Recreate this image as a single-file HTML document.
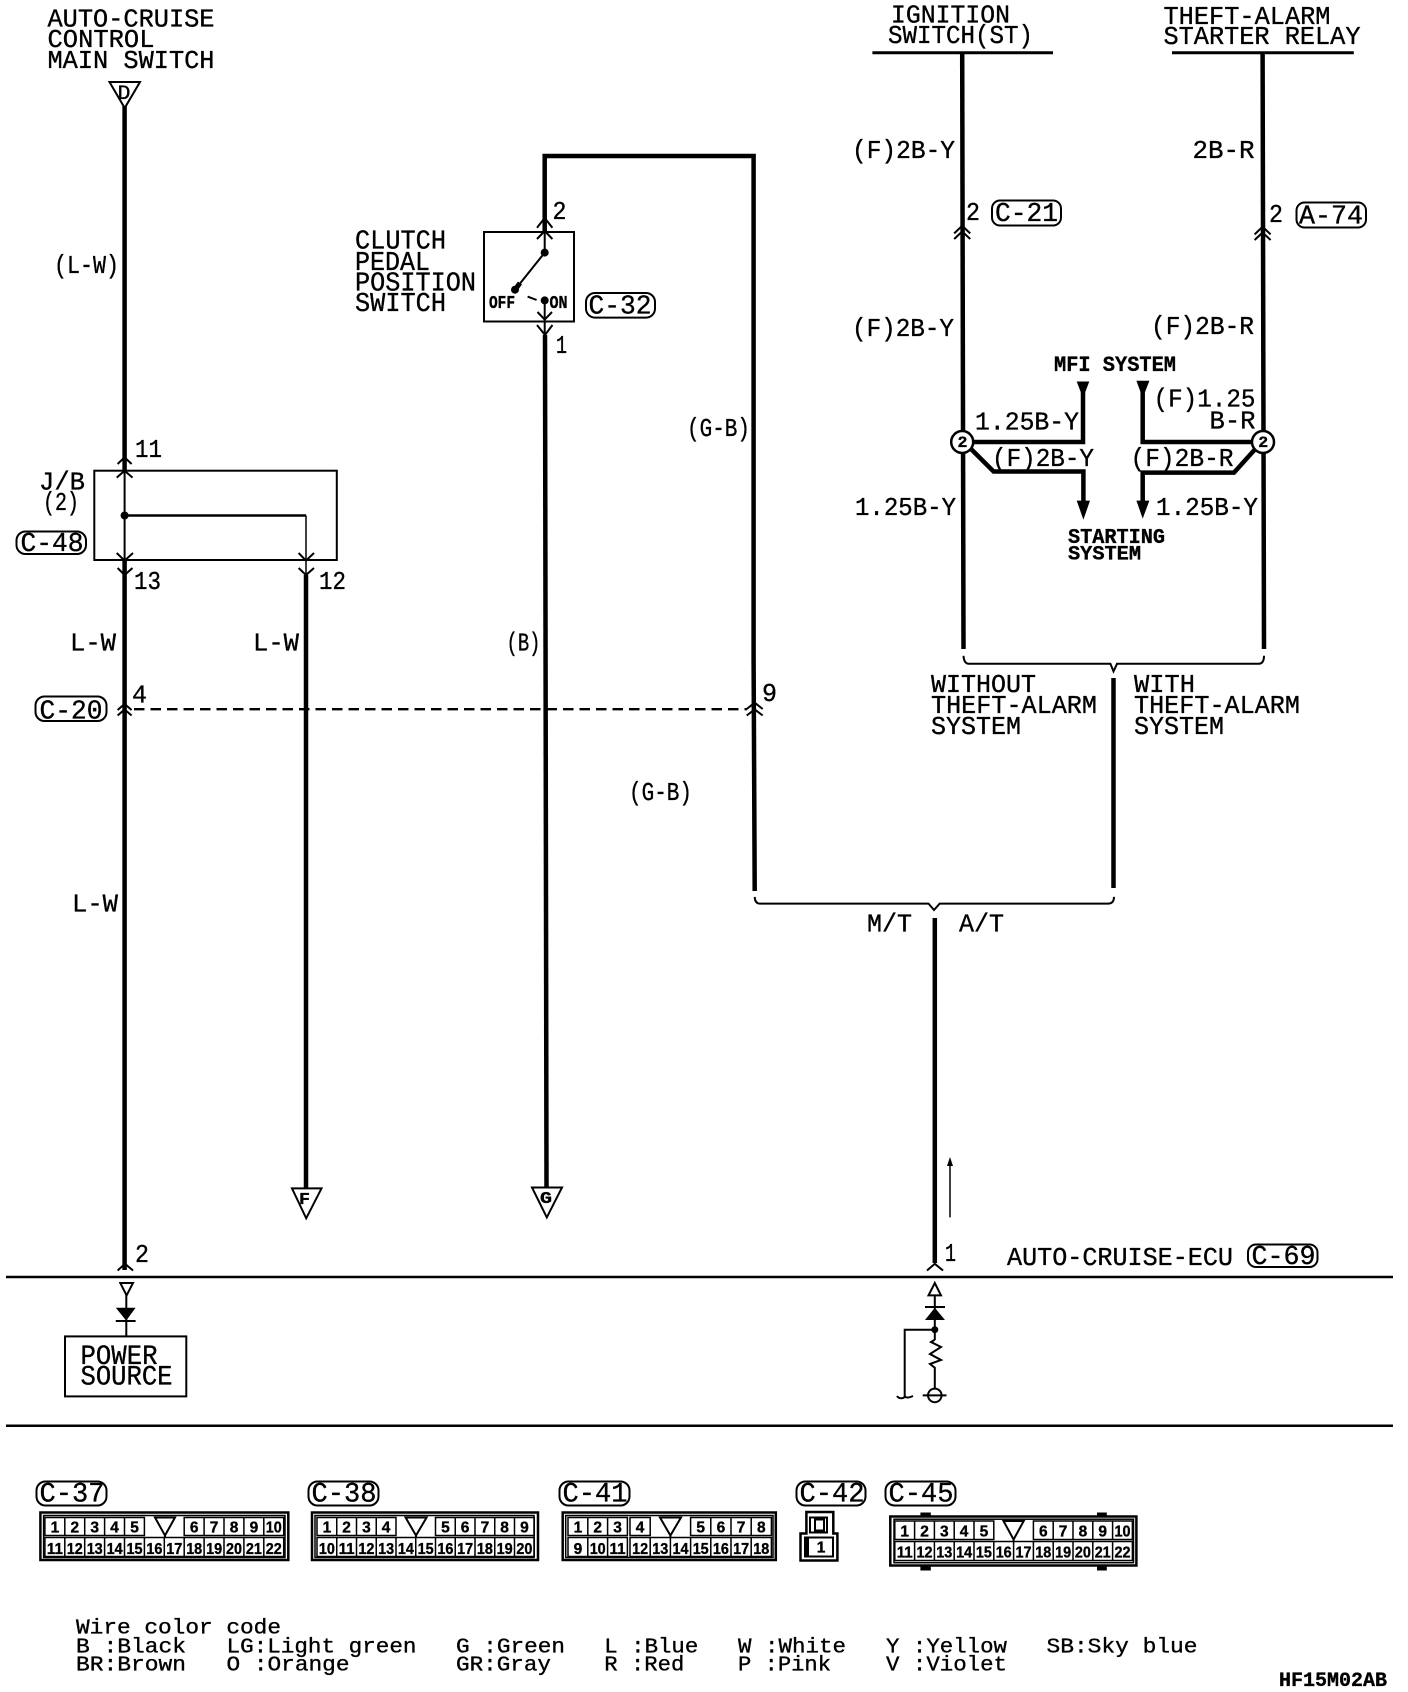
<!DOCTYPE html>
<html><head><meta charset="utf-8"><title>Auto-cruise wiring diagram</title>
<style>
html,body{margin:0;padding:0;background:#fff}
svg{display:block}
text{font-family:"Liberation Mono",monospace;fill:#000;stroke:#000;stroke-width:.35;transform:translateY(-1px)}
.c17{font-size:26px}.c18{font-size:27px}.c14{font-size:21px}
.b{font-weight:bold}
.n text{font-family:"Liberation Sans",sans-serif;font-weight:bold;font-size:15.5px;text-anchor:middle;stroke-width:.35}
.w{fill:none;stroke:#000;stroke-width:4.5}
.t{fill:none;stroke:#000;stroke-width:2}
.l{fill:none;stroke:#000;stroke-width:1.5}
.f{fill:#000;stroke:none}
.p{fill:#fff;stroke:#000;stroke-width:2}
</style></head><body>
<svg width="1408" height="1692" viewBox="0 0 1408 1692" xmlns="http://www.w3.org/2000/svg">
<rect width="1408" height="1692" fill="#fff"/>

<!-- dividers -->
<path class="t" style="stroke-width:2.5" d="M6 1277H1393M6 1425.7H1393"/>

<!-- wires -->
<path class="w" d="M124.6 106V1270"/>
<path class="w" d="M306 575V1188"/>
<path class="w" d="M544.7 232V156H753.6V660L754.7 891"/>
<path class="w" d="M545 335L546.5 1188"/>
<path class="w" d="M962.2 53L963.5 649"/>
<path class="w" d="M1262.6 53L1264 649"/>
<path class="w" d="M1113.5 678V888"/>
<path class="w" d="M934.8 918V1263"/>
<path class="t" style="stroke-width:3" d="M872.4 52.8H1053M1172 52.8H1353.8"/>

<!-- dashed -->
<path d="M134 709.2H747" stroke="#000" stroke-width="2.4" stroke-dasharray="10.5 6" fill="none"/>

<!-- braces -->
<path class="t" d="M963.5 655.8Q964 663.8 969 663.8H1110.4L1113.5 671.4L1117 663.8H1258.6Q1264 663.8 1264 655.8"/>
<path class="t" d="M754.7 896.9Q755 903.6 760 903.6H928.5L934 910L939.7 903.6H1108Q1114 903.6 1114 896.9"/>

<!-- top-left triangle -->
<path class="p" d="M109.5 82H140L124.7 108Z"/>
<text x="117.5" y="100" font-size="20" textLength="13" lengthAdjust="spacingAndGlyphs">D</text>
<text class="c17" x="47.5" y="27.5" textLength="167" lengthAdjust="spacingAndGlyphs">AUTO-CRUISE</text>
<text class="c17" x="47.5" y="47.8" textLength="107" lengthAdjust="spacingAndGlyphs">CONTROL</text>
<text class="c17" x="47.5" y="69" textLength="167" lengthAdjust="spacingAndGlyphs">MAIN SWITCH</text>
<text class="c17" x="54" y="274" textLength="65" lengthAdjust="spacingAndGlyphs">(L-W)</text>

<!-- clutch switch -->
<text class="c18" x="355" y="249.5" textLength="91" lengthAdjust="spacingAndGlyphs">CLUTCH</text>
<text class="c18" x="355" y="271" textLength="75" lengthAdjust="spacingAndGlyphs">PEDAL</text>
<text class="c18" x="355" y="291.6" textLength="121" lengthAdjust="spacingAndGlyphs">POSITION</text>
<text class="c18" x="355" y="312" textLength="91" lengthAdjust="spacingAndGlyphs">SWITCH</text>
<rect x="484" y="232" width="90" height="89.5" fill="#fff" stroke="#000" stroke-width="2"/>
<path class="t" d="M544.7 218V252.6"/>
<path class="t" d="M537 227.7L544.7 218L552.4 227.7M537 239L544.7 231L552.4 239"/>
<circle class="f" cx="544.7" cy="252.6" r="4"/>
<path class="t" d="M544.7 252.6L515 289.7"/>
<path d="M520 283L515 289.7" stroke="#000" stroke-width="5"/>
<circle class="f" cx="515" cy="289.7" r="4"/>
<path class="t" d="M527.6 296.6L536.6 300"/>
<circle class="f" cx="544.7" cy="300.4" r="4"/>
<path class="t" d="M544.7 300.4V335"/>
<path class="t" d="M537.5 312L544.7 319.6L552 312M537 325L545 335L552.5 325"/>
<text class="b" x="489" y="309" font-size="18" textLength="26" lengthAdjust="spacingAndGlyphs">OFF</text>
<text class="b" x="549.5" y="309" font-size="18" textLength="18" lengthAdjust="spacingAndGlyphs">ON</text>
<rect class="p" x="586" y="293" width="69" height="24.6" rx="9"/>
<text class="c18" x="588.5" y="314.6" textLength="63" lengthAdjust="spacingAndGlyphs">C-32</text>
<text class="c17" x="552.5" y="220" textLength="14" lengthAdjust="spacingAndGlyphs">2</text>
<text class="c17" x="556" y="354" textLength="11" lengthAdjust="spacingAndGlyphs">1</text>
<text class="c17" x="687" y="437" textLength="63" lengthAdjust="spacingAndGlyphs">(G-B)</text>

<!-- J/B -->
<rect x="94.3" y="470.7" width="242.5" height="89.3" fill="#fff" stroke="#000" stroke-width="2"/>
<path class="t" d="M124.6 457V575"/>
<path class="t" style="stroke-width:2.5" d="M124.6 515.5H306"/>
<path class="l" d="M306 515.5V575"/>
<circle class="f" cx="124.6" cy="515.5" r="4"/>
<path class="t" d="M117.6 464L124.6 457.3L131.6 464M116.7 477.6L124.6 470.7L132.5 477.6"/>
<path class="t" d="M116.7 553L124.6 560.6L133 553M117.6 568L124.6 575L132.5 568"/>
<path class="t" d="M298.6 553L306 560.6L314 553M298.6 568L306 575L314 568"/>
<text class="c17" x="135" y="458" textLength="27" lengthAdjust="spacingAndGlyphs">11</text>
<text class="c17" x="39" y="490.6" textLength="46" lengthAdjust="spacingAndGlyphs">J/B</text>
<text class="c17" x="43" y="511" textLength="36" lengthAdjust="spacingAndGlyphs">(2)</text>
<rect class="p" x="16.5" y="531.5" width="69.5" height="22.5" rx="9"/>
<text class="c18" x="20.5" y="552" textLength="63" lengthAdjust="spacingAndGlyphs">C-48</text>
<text class="c17" x="134" y="590" textLength="27" lengthAdjust="spacingAndGlyphs">13</text>
<text class="c17" x="319" y="590" textLength="27" lengthAdjust="spacingAndGlyphs">12</text>

<!-- mid labels -->
<text class="c17" x="70" y="651.3" textLength="46" lengthAdjust="spacingAndGlyphs">L-W</text>
<text class="c17" x="253" y="651.3" textLength="46" lengthAdjust="spacingAndGlyphs">L-W</text>
<text class="c17" x="506.5" y="651.3" textLength="34" lengthAdjust="spacingAndGlyphs">(B)</text>
<rect class="p" x="35.5" y="696.5" width="71" height="24.5" rx="9"/>
<text class="c18" x="39.5" y="719.5" textLength="63" lengthAdjust="spacingAndGlyphs">C-20</text>
<text class="c17" x="132" y="703.6" textLength="15" lengthAdjust="spacingAndGlyphs">4</text>
<path class="t" d="M117.6 710L124.6 704L131.6 710M117.6 715.5L124.6 709.5L131.6 715.5"/>
<text class="c17" x="629" y="801" textLength="63" lengthAdjust="spacingAndGlyphs">(G-B)</text>
<text class="c17" x="72" y="912.5" textLength="46" lengthAdjust="spacingAndGlyphs">L-W</text>
<path class="t" d="M746.7 709L754.7 702.7L762.7 709M746.7 715.5L754.7 709.4L762.7 715.5"/>
<text class="c17" x="762" y="701.8" textLength="15" lengthAdjust="spacingAndGlyphs">9</text>

<!-- F G triangles -->
<path class="p" d="M292 1188.4H321.5L306.2 1218.3Z"/>
<text class="b" x="299" y="1205" font-size="17" textLength="11" lengthAdjust="spacingAndGlyphs">F</text>
<path class="p" d="M532 1187.5H562L546.8 1217.4Z"/>
<text class="b" x="540" y="1204" font-size="17" textLength="12" lengthAdjust="spacingAndGlyphs">G</text>

<text class="c17" x="135" y="1263" textLength="14" lengthAdjust="spacingAndGlyphs">2</text>
<path class="t" d="M117.6 1270.5L125 1263.8L133 1270.5"/>

<!-- Power source -->
<path class="p" d="M120.3 1283H133L126.6 1295.4Z"/>
<path class="t" d="M126.3 1295V1336.4"/>
<path class="f" d="M115.8 1307.8H135.6L126.2 1320.6Z"/>
<path class="t" d="M115.8 1321H135.6"/>
<rect x="65" y="1336.4" width="121.3" height="60" fill="#fff" stroke="#000" stroke-width="2"/>
<text font-size="28" x="80.5" y="1365" textLength="77" lengthAdjust="spacingAndGlyphs">POWER</text>
<text font-size="28" x="80.5" y="1385.3" textLength="92" lengthAdjust="spacingAndGlyphs">SOURCE</text>

<!-- Ignition column -->
<text class="c17" x="891" y="23.7" textLength="119" lengthAdjust="spacingAndGlyphs">IGNITION</text>
<text class="c17" x="888" y="44" textLength="145" lengthAdjust="spacingAndGlyphs">SWITCH(ST)</text>
<text class="c17" x="1163.5" y="25" textLength="167" lengthAdjust="spacingAndGlyphs">THEFT-ALARM</text>
<text class="c17" x="1163.5" y="45" textLength="197" lengthAdjust="spacingAndGlyphs">STARTER RELAY</text>
<text class="c17" x="852" y="158.8" textLength="103" lengthAdjust="spacingAndGlyphs">(F)2B-Y</text>
<text class="c17" x="1192.5" y="158.8" textLength="62" lengthAdjust="spacingAndGlyphs">2B-R</text>
<text class="c17" x="966" y="221" textLength="14" lengthAdjust="spacingAndGlyphs">2</text>
<rect class="p" x="992" y="200.5" width="69" height="25" rx="8"/>
<text class="c18" x="995" y="222" textLength="63" lengthAdjust="spacingAndGlyphs">C-21</text>
<path class="t" d="M954.2 233.4L962.2 225.8L970.2 233.4M954.2 239L962.2 231.5L970.2 239"/>
<text class="c17" x="1269" y="223" textLength="14" lengthAdjust="spacingAndGlyphs">2</text>
<rect class="p" x="1296.5" y="202.5" width="69.5" height="25" rx="8"/>
<text class="c18" x="1299" y="224.5" textLength="64" lengthAdjust="spacingAndGlyphs">A-74</text>
<path class="t" d="M1254.6 234.4L1262.6 226.8L1270.6 234.4M1254.6 240L1262.6 232.5L1270.6 240"/>
<text class="c17" x="852" y="336.8" textLength="102" lengthAdjust="spacingAndGlyphs">(F)2B-Y</text>
<text class="c17" x="1151" y="334.9" textLength="103" lengthAdjust="spacingAndGlyphs">(F)2B-R</text>
<text class="b" x="1054" y="372" font-size="22" textLength="122" lengthAdjust="spacingAndGlyphs">MFI SYSTEM</text>
<text class="c17" x="1153.5" y="407.6" textLength="102" lengthAdjust="spacingAndGlyphs">(F)1.25</text>
<text class="c17" x="1209.5" y="429.4" textLength="46" lengthAdjust="spacingAndGlyphs">B-R</text>
<text class="c17" x="975" y="430.5" textLength="104" lengthAdjust="spacingAndGlyphs">1.25B-Y</text>
<text class="c17" x="992" y="466.9" textLength="102" lengthAdjust="spacingAndGlyphs">(F)2B-Y</text>
<text class="c17" x="1130.5" y="466.9" textLength="103" lengthAdjust="spacingAndGlyphs">(F)2B-R</text>
<text class="c17" x="855" y="515.9" textLength="101" lengthAdjust="spacingAndGlyphs">1.25B-Y</text>
<text class="c17" x="1156" y="515.9" textLength="102" lengthAdjust="spacingAndGlyphs">1.25B-Y</text>
<text class="b" x="1068" y="544" font-size="21" textLength="97" lengthAdjust="spacingAndGlyphs">STARTING</text>
<text class="b" x="1068" y="560.6" font-size="20" textLength="73" lengthAdjust="spacingAndGlyphs">SYSTEM</text>

<path class="w" d="M962 442H1083V385"/>
<path class="w" d="M1263 442H1142.7V385"/>
<path class="w" d="M968 446L993.6 471.5H1083.4V503"/>
<path class="w" d="M1258 446L1234 472.6H1142.7V503"/>
<path class="f" d="M1076.7 381.5H1089.3L1083 398Z"/>
<path class="f" d="M1136.4 380.8H1149.4L1142.7 398Z"/>
<path class="f" d="M1076.7 500.6H1090L1083.4 519.7Z"/>
<path class="f" d="M1136.4 500.6H1149.4L1142.7 518.6Z"/>
<circle cx="962.2" cy="442" r="11" fill="#fff" stroke="#000" stroke-width="2.5"/>
<circle cx="1263" cy="442" r="11" fill="#fff" stroke="#000" stroke-width="2.5"/>
<text class="b" x="957.5" y="448" font-size="16" textLength="10" lengthAdjust="spacingAndGlyphs">2</text>
<text class="b" x="1258.3" y="448" font-size="16" textLength="10" lengthAdjust="spacingAndGlyphs">2</text>

<!-- without/with -->
<text font-size="26" x="931" y="692.9" textLength="105" lengthAdjust="spacingAndGlyphs">WITHOUT</text>
<text font-size="26" x="931" y="713.8" textLength="166" lengthAdjust="spacingAndGlyphs">THEFT-ALARM</text>
<text font-size="26" x="931" y="734.8" textLength="90" lengthAdjust="spacingAndGlyphs">SYSTEM</text>
<text font-size="26" x="1134" y="692.9" textLength="61" lengthAdjust="spacingAndGlyphs">WITH</text>
<text font-size="26" x="1134" y="713.8" textLength="166" lengthAdjust="spacingAndGlyphs">THEFT-ALARM</text>
<text font-size="26" x="1134" y="734.8" textLength="90" lengthAdjust="spacingAndGlyphs">SYSTEM</text>
<text class="c17" x="867" y="932.6" textLength="45" lengthAdjust="spacingAndGlyphs">M/T</text>
<text class="c17" x="959" y="932.6" textLength="45" lengthAdjust="spacingAndGlyphs">A/T</text>

<!-- small arrow -->
<path class="l" d="M950 1217.4V1162"/>
<path class="f" d="M950 1157L953 1166H947Z"/>
<text class="c17" x="945" y="1262" textLength="11" lengthAdjust="spacingAndGlyphs">1</text>
<path class="t" d="M927 1270.5L934.8 1263.8L943 1270.5"/>
<text class="c17" x="1007" y="1266" textLength="226" lengthAdjust="spacingAndGlyphs">AUTO-CRUISE-ECU</text>
<rect class="p" x="1248" y="1244.5" width="69.5" height="22.5" rx="8"/>
<text class="c18" x="1251.5" y="1265" textLength="64" lengthAdjust="spacingAndGlyphs">C-69</text>

<!-- ECU symbols -->
<path class="p" d="M928.5 1295.4H941L934.8 1283Z"/>
<path class="t" d="M934.8 1295V1340"/>
<path class="t" d="M925 1307H945"/>
<path class="f" d="M934.8 1307.8L945 1320H925Z"/>
<circle class="f" cx="934.8" cy="1329.7" r="3.5"/>
<path class="t" d="M934.8 1329.7H904.7V1396C904.7 1399 899 1399 897 1396"/>
<path class="t" d="M904.7 1396Q906 1399 913 1396"/>
<path class="t" d="M934.8 1339.8L931 1342L941 1347L930 1354L941 1360L930 1364L934.8 1367.7V1389.6"/>
<circle cx="934.8" cy="1395.4" r="6.8" fill="#fff" stroke="#000" stroke-width="2"/>
<path class="t" d="M922.7 1395.4H946.5"/>

<g transform="translate(0,-2.5)">
<!-- pills for connectors -->
<rect class="p" x="36.5" y="1484" width="70" height="24" rx="9"/>
<text font-size="28" x="39.5" y="1505" textLength="65" lengthAdjust="spacingAndGlyphs">C-37</text>
<rect class="p" x="308.5" y="1484" width="70" height="24" rx="9"/>
<text font-size="28" x="311.5" y="1505" textLength="65" lengthAdjust="spacingAndGlyphs">C-38</text>
<rect class="p" x="559.5" y="1484" width="70" height="24" rx="9"/>
<text font-size="28" x="562.5" y="1505" textLength="65" lengthAdjust="spacingAndGlyphs">C-41</text>
<rect class="p" x="796.5" y="1484" width="69" height="24" rx="9"/>
<text font-size="28" x="799.5" y="1505" textLength="65" lengthAdjust="spacingAndGlyphs">C-42</text>
<rect class="p" x="885.5" y="1484" width="70" height="24" rx="9"/>
<text font-size="28" x="888.5" y="1505" textLength="65" lengthAdjust="spacingAndGlyphs">C-45</text>

<!-- C-37 -->
<rect x="40.4" y="1515" width="247.9" height="47.5" fill="#fff" stroke="#000" stroke-width="2.5"/>
<rect x="43.6" y="1518" width="241.4" height="42" fill="none" stroke="#000" stroke-width="1.5"/>
<path class="l" d="M44.9 1520H144.4V1538H44.9ZM64.8 1520V1538M84.7 1520V1538M104.6 1520V1538M124.5 1520V1538M184.2 1520H283.7V1538H184.2ZM204.1 1520V1538M224 1520V1538M243.9 1520V1538M263.8 1520V1538"/>
<path class="l" d="M44.9 1540H283.7V1559H44.9ZM64.8 1540V1559M84.7 1540V1559M104.6 1540V1559M124.5 1540V1559M144.4 1540V1559M164.3 1540V1559M184.2 1540V1559M204.1 1540V1559M224 1540V1559M243.9 1540V1559M263.8 1540V1559"/>
<path class="t" d="M155 1520H175L165 1538ZM165 1538V1540"/>
<g class="n">
<text x="54.9" y="1536">1</text><text x="74.8" y="1536">2</text><text x="94.7" y="1536">3</text><text x="114.6" y="1536">4</text><text x="134.5" y="1536">5</text><text x="194.2" y="1536">6</text><text x="214.1" y="1536">7</text><text x="234" y="1536">8</text><text x="253.9" y="1536">9</text><text x="273.8" y="1536" textLength="16" lengthAdjust="spacingAndGlyphs">10</text>
<text x="54.9" y="1557.5" textLength="16" lengthAdjust="spacingAndGlyphs">11</text><text x="74.8" y="1557.5" textLength="16" lengthAdjust="spacingAndGlyphs">12</text><text x="94.7" y="1557.5" textLength="16" lengthAdjust="spacingAndGlyphs">13</text><text x="114.6" y="1557.5" textLength="16" lengthAdjust="spacingAndGlyphs">14</text><text x="134.5" y="1557.5" textLength="16" lengthAdjust="spacingAndGlyphs">15</text><text x="154.4" y="1557.5" textLength="16" lengthAdjust="spacingAndGlyphs">16</text><text x="174.3" y="1557.5" textLength="16" lengthAdjust="spacingAndGlyphs">17</text><text x="194.2" y="1557.5" textLength="16" lengthAdjust="spacingAndGlyphs">18</text><text x="214.1" y="1557.5" textLength="16" lengthAdjust="spacingAndGlyphs">19</text><text x="234" y="1557.5" textLength="16" lengthAdjust="spacingAndGlyphs">20</text><text x="253.9" y="1557.5" textLength="16" lengthAdjust="spacingAndGlyphs">21</text><text x="273.8" y="1557.5" textLength="16" lengthAdjust="spacingAndGlyphs">22</text>
</g>

<!-- C-38 -->
<rect x="312" y="1515" width="226" height="47.5" fill="#fff" stroke="#000" stroke-width="2.5"/>
<rect x="315" y="1518" width="219" height="42" fill="none" stroke="#000" stroke-width="1.5"/>
<path class="l" d="M317 1520H396V1538H317ZM336.75 1520V1538M356.5 1520V1538M376.25 1520V1538M435.5 1520H534.25V1538H435.5ZM455.25 1520V1538M475 1520V1538M494.75 1520V1538M514.5 1520V1538"/>
<path class="l" d="M317 1540H534.25V1559H317ZM336.75 1540V1559M356.5 1540V1559M376.25 1540V1559M396 1540V1559M415.75 1540V1559M435.5 1540V1559M455.25 1540V1559M475 1540V1559M494.75 1540V1559M514.5 1540V1559"/>
<path class="t" d="M405.6 1520H426.6L416 1538ZM416 1538V1540"/>
<g class="n">
<text x="326.9" y="1536">1</text><text x="346.6" y="1536">2</text><text x="366.4" y="1536">3</text><text x="386.1" y="1536">4</text><text x="445.4" y="1536">5</text><text x="465.1" y="1536">6</text><text x="484.9" y="1536">7</text><text x="504.6" y="1536">8</text><text x="524.4" y="1536">9</text>
<text x="326.9" y="1557.5" textLength="16" lengthAdjust="spacingAndGlyphs">10</text><text x="346.6" y="1557.5" textLength="16" lengthAdjust="spacingAndGlyphs">11</text><text x="366.4" y="1557.5" textLength="16" lengthAdjust="spacingAndGlyphs">12</text><text x="386.1" y="1557.5" textLength="16" lengthAdjust="spacingAndGlyphs">13</text><text x="405.9" y="1557.5" textLength="16" lengthAdjust="spacingAndGlyphs">14</text><text x="425.6" y="1557.5" textLength="16" lengthAdjust="spacingAndGlyphs">15</text><text x="445.4" y="1557.5" textLength="16" lengthAdjust="spacingAndGlyphs">16</text><text x="465.1" y="1557.5" textLength="16" lengthAdjust="spacingAndGlyphs">17</text><text x="484.9" y="1557.5" textLength="16" lengthAdjust="spacingAndGlyphs">18</text><text x="504.6" y="1557.5" textLength="16" lengthAdjust="spacingAndGlyphs">19</text><text x="524.4" y="1557.5" textLength="16" lengthAdjust="spacingAndGlyphs">20</text>
</g>

<!-- C-41 -->
<rect x="562.7" y="1515" width="213.1" height="47.5" fill="#fff" stroke="#000" stroke-width="2.5"/>
<rect x="565.7" y="1518" width="207.3" height="42" fill="none" stroke="#000" stroke-width="1.5"/>
<path class="l" d="M568 1520H627.4V1538H568ZM587.8 1520V1538M607.6 1520V1538M630 1520H650.2V1538H630ZM690.6 1520H771.4V1538H690.6ZM710.8 1520V1538M731 1520V1538M751.2 1520V1538"/>
<path class="l" d="M568 1540H627.4V1559H568ZM587.8 1540V1559M607.6 1540V1559M630 1540H771.4V1559H630ZM650.2 1540V1559M670.4 1540V1559M690.6 1540V1559M710.8 1540V1559M731 1540V1559M751.2 1540V1559"/>
<path class="t" d="M660 1520H681L670.4 1538ZM670.4 1538V1540"/>
<g class="n">
<text x="577.9" y="1536">1</text><text x="597.7" y="1536">2</text><text x="617.5" y="1536">3</text><text x="640.1" y="1536">4</text><text x="700.7" y="1536">5</text><text x="720.9" y="1536">6</text><text x="741.1" y="1536">7</text><text x="761.3" y="1536">8</text>
<text x="577.9" y="1557.5">9</text><text x="597.7" y="1557.5" textLength="16" lengthAdjust="spacingAndGlyphs">10</text><text x="617.5" y="1557.5" textLength="16" lengthAdjust="spacingAndGlyphs">11</text><text x="640.1" y="1557.5" textLength="16" lengthAdjust="spacingAndGlyphs">12</text><text x="660.3" y="1557.5" textLength="16" lengthAdjust="spacingAndGlyphs">13</text><text x="680.5" y="1557.5" textLength="16" lengthAdjust="spacingAndGlyphs">14</text><text x="700.7" y="1557.5" textLength="16" lengthAdjust="spacingAndGlyphs">15</text><text x="720.9" y="1557.5" textLength="16" lengthAdjust="spacingAndGlyphs">16</text><text x="741.1" y="1557.5" textLength="16" lengthAdjust="spacingAndGlyphs">17</text><text x="761.3" y="1557.5" textLength="16" lengthAdjust="spacingAndGlyphs">18</text>
</g>

<!-- C-42 -->
<path fill="#fff" stroke="#000" stroke-width="2.5" d="M806.4 1536V1514.5H833.3V1536H837.4V1563H800.5V1536Z"/>
<rect x="810" y="1520" width="17" height="15" fill="#fff" stroke="#000" stroke-width="2"/>
<rect x="815" y="1522" width="9" height="11" fill="#fff" stroke="#000" stroke-width="2"/>
<rect x="805" y="1540" width="28" height="19" fill="#fff" stroke="#000" stroke-width="2"/>
<rect class="f" x="804" y="1540" width="5" height="19"/>
<g class="n"><text x="821" y="1556">1</text></g>

<!-- C-45 -->
<path class="f" d="M920.4 1515H930.8V1520H920.4ZM1097 1515H1106.8V1520H1097ZM920.4 1568H930.8V1573H920.4ZM1097 1568H1106.8V1573H1097Z"/>
<rect x="890.3" y="1519" width="246.1" height="49" fill="#fff" stroke="#000" stroke-width="2.5"/>
<rect x="894" y="1521.7" width="239.5" height="43.5" fill="none" stroke="#000" stroke-width="1.5"/>
<path class="l" d="M894.8 1523.5H993.8V1542H894.8ZM914.6 1523.5V1542M934.4 1523.5V1542M954.2 1523.5V1542M974 1523.5V1542M1033.4 1523.5H1132.4V1542H1033.4ZM1053.2 1523.5V1542M1073 1523.5V1542M1092.8 1523.5V1542M1112.6 1523.5V1542"/>
<path class="l" d="M894.8 1544H1132.4V1563H894.8ZM914.6 1544V1563M934.4 1544V1563M954.2 1544V1563M974 1544V1563M993.8 1544V1563M1013.6 1544V1563M1033.4 1544V1563M1053.2 1544V1563M1073 1544V1563M1092.8 1544V1563M1112.6 1544V1563"/>
<path class="t" d="M1003.5 1523.5H1023.7L1013.6 1542ZM1013.6 1542V1544"/>
<g class="n">
<text x="904.7" y="1540">1</text><text x="924.5" y="1540">2</text><text x="944.3" y="1540">3</text><text x="964.1" y="1540">4</text><text x="983.9" y="1540">5</text><text x="1043.3" y="1540">6</text><text x="1063.1" y="1540">7</text><text x="1082.9" y="1540">8</text><text x="1102.7" y="1540">9</text><text x="1122.5" y="1540" textLength="16" lengthAdjust="spacingAndGlyphs">10</text>
<text x="904.7" y="1561" textLength="16" lengthAdjust="spacingAndGlyphs">11</text><text x="924.5" y="1561" textLength="16" lengthAdjust="spacingAndGlyphs">12</text><text x="944.3" y="1561" textLength="16" lengthAdjust="spacingAndGlyphs">13</text><text x="964.1" y="1561" textLength="16" lengthAdjust="spacingAndGlyphs">14</text><text x="983.9" y="1561" textLength="16" lengthAdjust="spacingAndGlyphs">15</text><text x="1003.7" y="1561" textLength="16" lengthAdjust="spacingAndGlyphs">16</text><text x="1023.5" y="1561" textLength="16" lengthAdjust="spacingAndGlyphs">17</text><text x="1043.3" y="1561" textLength="16" lengthAdjust="spacingAndGlyphs">18</text><text x="1063.1" y="1561" textLength="16" lengthAdjust="spacingAndGlyphs">19</text><text x="1082.9" y="1561" textLength="16" lengthAdjust="spacingAndGlyphs">20</text><text x="1102.7" y="1561" textLength="16" lengthAdjust="spacingAndGlyphs">21</text><text x="1122.5" y="1561" textLength="16" lengthAdjust="spacingAndGlyphs">22</text>
</g>
</g>

<!-- legend -->
<text class="c14" x="76" y="1634.3" textLength="205" lengthAdjust="spacingAndGlyphs">Wire color code</text>
<text class="c14" x="76" y="1653.5" textLength="110" lengthAdjust="spacingAndGlyphs">B :Black</text>
<text class="c14" x="226.5" y="1653.5" textLength="190" lengthAdjust="spacingAndGlyphs">LG:Light green</text>
<text class="c14" x="456" y="1653.5" textLength="109" lengthAdjust="spacingAndGlyphs">G :Green</text>
<text class="c14" x="604.3" y="1653.5" textLength="94" lengthAdjust="spacingAndGlyphs">L :Blue</text>
<text class="c14" x="738" y="1653.5" textLength="108" lengthAdjust="spacingAndGlyphs">W :White</text>
<text class="c14" x="886" y="1653.5" textLength="121" lengthAdjust="spacingAndGlyphs">Y :Yellow</text>
<text class="c14" x="1046.5" y="1653.5" textLength="151" lengthAdjust="spacingAndGlyphs">SB:Sky blue</text>
<text class="c14" x="76" y="1671.5" textLength="110" lengthAdjust="spacingAndGlyphs">BR:Brown</text>
<text class="c14" x="226.5" y="1671.5" textLength="123" lengthAdjust="spacingAndGlyphs">O :Orange</text>
<text class="c14" x="456" y="1671.5" textLength="95" lengthAdjust="spacingAndGlyphs">GR:Gray</text>
<text class="c14" x="604.3" y="1671.5" textLength="80" lengthAdjust="spacingAndGlyphs">R :Red</text>
<text class="c14" x="738" y="1671.5" textLength="93" lengthAdjust="spacingAndGlyphs">P :Pink</text>
<text class="c14" x="886" y="1671.5" textLength="121" lengthAdjust="spacingAndGlyphs">V :Violet</text>
<text class="b" x="1279" y="1687" font-size="20" textLength="108" lengthAdjust="spacingAndGlyphs">HF15M02AB</text>
</svg>
</body></html>
